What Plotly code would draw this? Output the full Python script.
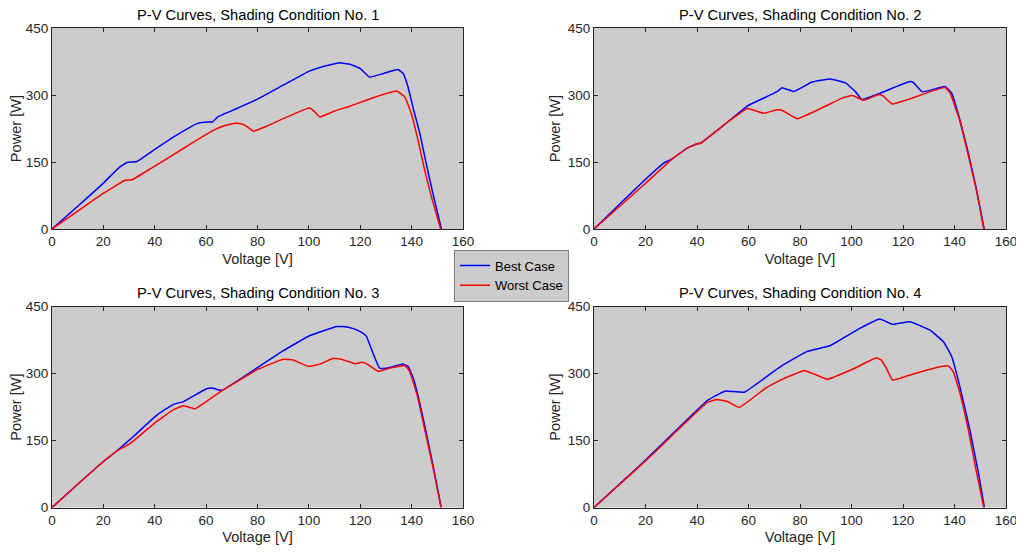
import plotly.graph_objects as go

# ---------------- data ----------------
titles = ["P-V Curves, Shading Condition No. 1", "P-V Curves, Shading Condition No. 2",
          "P-V Curves, Shading Condition No. 3", "P-V Curves, Shading Condition No. 4"]
series_names = ["Best Case", "Worst Case"]
x_ticks = [0, 20, 40, 60, 80, 100, 120, 140, 160]
y_ticks = [0, 150, 300, 450]

v1_best = [0, 10, 19.5, 26, 29.2, 33.1, 38.9, 49.3, 57, 61.6, 62.3, 64.8, 70, 79.7, 90, 100.4, 105.6, 112, 116, 120, 123.7, 129, 134.7, 136.7, 138.6, 140.5, 143.2, 145.7, 148.3, 151.6]
p1_best = [0, 51, 100, 137, 149, 151, 174, 213, 237, 240, 239, 252, 265, 290, 322, 354, 364, 372, 369, 359, 340, 348, 357, 348, 318, 273, 214, 146, 79, 0]

v1_worst = [0, 10, 19.5, 28.5, 31.1, 38.9, 51.9, 62.2, 66, 70.6, 73, 75.5, 78.4, 83.5, 90, 99, 100.4, 102, 104.3, 110, 116, 125, 134.1, 137.3, 139.9, 142.5, 145.1, 147.7, 151.3]
p1_worst = [0, 40, 78, 109, 110, 137, 183, 219, 229, 236, 236, 231, 219, 230, 247, 269, 271, 264, 251, 264, 275, 294, 309, 296, 258, 199, 131, 72, 0]

v2_best = [0, 10, 19.4, 27.2, 30.4, 36.2, 40.1, 41.4, 51.8, 59.5, 71.2, 73, 77.6, 84.7, 91.8, 97.7, 100.3, 101.6, 104, 110.6, 122.7, 124, 127.6, 136.3, 138.9, 142.1, 145.4, 148.6, 151.5]
p2_best = [0, 56, 108, 148, 157, 181, 191, 192, 239, 275, 308, 316, 308, 329, 336, 327, 314, 307, 290, 303, 330, 328, 307, 319, 304, 244, 169, 87, 0]

v2_worst = [0, 10, 19.4, 30.4, 36.2, 40.1, 41.4, 51.8, 59.5, 61.5, 66, 71, 73, 79, 96.4, 100.3, 104.8, 110.6, 112, 115.8, 123.5, 136.3, 138.3, 142, 145.2, 148.5, 151.4]
p2_worst = [0, 51, 99, 157, 181, 191, 192, 239, 270, 267, 259, 267, 266, 247, 293, 299, 288, 301, 299, 280, 293, 317, 304, 244, 169, 87, 0]

v3_best = [0, 10, 20, 25.3, 31.7, 40.8, 47.3, 51.2, 56.4, 60.2, 62.8, 66, 79.7, 90, 100.4, 110.8, 113.3, 117, 120.5, 122.4, 125, 127.5, 130.1, 136.6, 138.6, 140.5, 142.5, 145.3, 148.4, 151.5]
p3_best = [0, 52, 103, 127, 159, 207, 231, 237, 254, 266, 267, 262, 312, 351, 385, 405, 405, 401, 392, 383, 345, 312, 312, 321, 316, 292, 250, 178, 92, 0]

v3_worst = [0, 10, 20, 25.3, 30.4, 40.8, 47.3, 51.2, 55.7, 66, 79.7, 90, 93.9, 99.7, 104.3, 109.5, 113.3, 117.9, 120.5, 122.4, 126.9, 131.5, 137.3, 139.2, 142.2, 145.1, 148.3, 151.5]
p3_worst = [0, 52, 103, 127, 143, 193, 219, 228, 221, 261, 308, 332, 330, 316, 321, 334, 331, 322, 325, 322, 305, 312, 318, 305, 250, 175, 90, 0]

v4_best = [0, 10, 20, 31, 43.9, 51, 58.3, 72.3, 82.6, 91.6, 103.2, 111, 116, 122.7, 130.5, 135.7, 138.9, 142.1, 146, 149.3, 151.6]
p4_best = [0, 53, 106, 168, 239, 261, 258, 315, 349, 362, 401, 422, 410, 416, 397, 371, 338, 270, 173, 77, 0]

v4_worst = [0, 10, 20, 31, 43.9, 47.7, 51.6, 56.4, 66.6, 73.5, 81.3, 82.6, 86.7, 90.6, 100.6, 109.7, 111.6, 113.5, 116, 124, 134.4, 137.6, 139.5, 142.1, 145.4, 148.6, 151.4]
p4_worst = [0, 52, 104, 165, 235, 242, 238, 224, 267, 288, 306, 305, 296, 287, 310, 335, 330, 312, 285, 299, 315, 317, 304, 256, 173, 77, 0]

best = [(v1_best, p1_best), (v2_best, p2_best), (v3_best, p3_best), (v4_best, p4_best)]
worst = [(v1_worst, p1_worst), (v2_worst, p2_worst), (v3_worst, p3_worst), (v4_worst, p4_worst)]

# ---------------- layout geometry ----------------
W, H = 1024, 555
OFF = 8  # default page margin of the html body


def px_x(p):
    return (p - OFF) / W


def px_y(p):
    return 1 - (p - OFF) / H


x_doms = [(px_x(52), px_x(463)), (px_x(594), px_x(1006))]
y_doms = [(px_y(229), px_y(28)), (px_y(507.5), px_y(306.5))]

AX = "#262626"
FONT = "Liberation Sans, Arial, Helvetica, sans-serif"

fig = go.Figure()
for i in range(4):
    row, col = divmod(i, 2)
    n = i + 1
    xa = "x" if n == 1 else f"x{n}"
    ya = "y" if n == 1 else f"y{n}"
    vb, pb = best[i]
    vw, pw = worst[i]
    fig.add_trace(go.Scatter(x=vb, y=pb, mode="lines", name=series_names[0],
                             line=dict(color="#0000ff", width=1.5, shape="spline", smoothing=0.3),
                             xaxis=xa, yaxis=ya, showlegend=(i == 0), legendrank=1))
    fig.add_trace(go.Scatter(x=vw, y=pw, mode="lines", name=series_names[1],
                             line=dict(color="#ff0000", width=1.5, shape="spline", smoothing=0.3),
                             xaxis=xa, yaxis=ya, showlegend=(i == 0), legendrank=2))
    common = dict(showline=True, linecolor=AX, linewidth=1, mirror="ticks",
                  ticks="inside", ticklen=4, tickcolor=AX, showgrid=False,
                  zeroline=False, tickfont=dict(size=13.5, color=AX, family=FONT),
                  fixedrange=True, automargin=False)
    fig.layout[f"xaxis{'' if n == 1 else n}"] = dict(
        domain=x_doms[col], range=[0, 160], tickvals=x_ticks, anchor=ya,
        title=dict(text="Voltage [V]", font=dict(size=14.6, color=AX, family=FONT), standoff=5),
        **common)
    fig.layout[f"yaxis{'' if n == 1 else n}"] = dict(
        domain=y_doms[row], range=[0, 450], tickvals=y_ticks, anchor=xa,
        title=dict(text="Power [W]", font=dict(size=14.6, color=AX, family=FONT), standoff=3),
        **common)
    fig.add_annotation(text=titles[i], xref="paper", yref="paper",
                       x=(x_doms[col][0] + x_doms[col][1]) / 2, y=y_doms[row][1] + 3 / H,
                       xanchor="center", yanchor="bottom", showarrow=False,
                       font=dict(size=14.7, color="#000000", family=FONT))

fig.update_layout(
    width=W, height=H,
    margin=dict(l=0, r=0, t=0, b=0),
    paper_bgcolor="white", plot_bgcolor="#cccccc",
    font=dict(family=FONT, color=AX),
    legend=dict(x=px_x(454), y=px_y(275.5), xanchor="left", yanchor="middle",
                bgcolor="#cccccc", bordercolor="#7f7f7f", borderwidth=1,
                font=dict(size=13, color="#000000", family=FONT),
                itemwidth=30, tracegroupgap=0),
    showlegend=True,
)

fig.write_html("out.html")
